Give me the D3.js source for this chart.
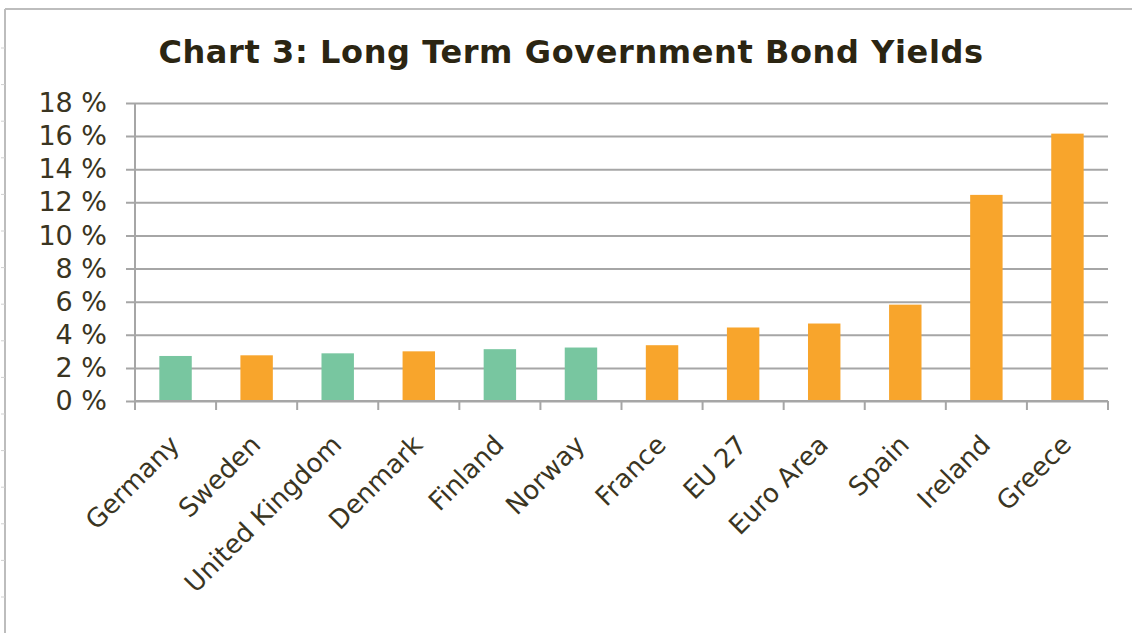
<!DOCTYPE html>
<html>
<head>
<meta charset="utf-8">
<script src="https://cdn.jsdelivr.net/npm/d3@7"></script>
<style>
  html, body { margin: 0; padding: 0; background: #fff; }
  svg { display: block; }
</style>
</head>
<body>
<script>
// Long term government bond yields, per cent
const countries = ["Germany", "Sweden", "United Kingdom", "Denmark", "Finland", "Norway",
                   "France", "EU 27", "Euro Area", "Spain", "Ireland", "Greece"];
const yields = [2.72, 2.76, 2.88, 3.0, 3.13, 3.23, 3.37, 4.44, 4.68, 5.82, 12.45, 16.15];
// euro members in orange, non-euro in green
const groups = ["non", "euro", "non", "euro", "non", "non",
                "euro", "euro", "euro", "euro", "euro", "euro"];
const yTicks = [0, 2, 4, 6, 8, 10, 12, 14, 16, 18];

const W = 1132, H = 633;
const margin = { left: 135, right: 24, top: 103, bottom: 232 };
const colors = { non: "#78c6a0", euro: "#f8a52c" };
const textColor = "#3a3522";

const svg = d3.select("body").append("svg").attr("width", W).attr("height", H);

// frame of the chart object (top and left edges)
const frame = svg.append("g");
frame.append("line").attr("x1", 5).attr("x2", W).attr("y1", 9).attr("y2", 9)
  .attr("stroke", "#bdbdbd").attr("stroke-width", 2);
frame.append("line").attr("x1", 5).attr("x2", 5).attr("y1", 9).attr("y2", H)
  .attr("stroke", "#bdbdbd").attr("stroke-width", 2);
frame.selectAll("line.mark").data(d3.range(48, H, 36.6)).join("line")
  .attr("class", "mark").attr("x1", 1).attr("x2", 5).attr("y1", d => d).attr("y2", d => d)
  .attr("stroke", "#cfcfcf").attr("stroke-width", 1);

const x = d3.scaleBand().domain(countries)
  .range([margin.left, W - margin.right]).paddingInner(0.6).paddingOuter(0.3);
const xTick = d3.scaleBand().domain(countries).range([margin.left, W - margin.right]);
const y = d3.scaleLinear().domain([0, 18]).range([H - margin.bottom, margin.top]);

// title
svg.append("text")
  .attr("x", 571).attr("y", 63)
  .attr("text-anchor", "middle")
  .attr("font-family", "DejaVu Sans, Verdana, sans-serif")
  .attr("font-weight", "bold")
  .attr("font-size", 32)
  .attr("letter-spacing", 0.6)
  .attr("fill", "#2b2512")
  .text("Chart 3: Long Term Government Bond Yields");

// gridlines and y axis
const yAxis = d3.axisLeft(y).tickValues(yTicks)
  .tickSize(-(W - margin.right - margin.left + 9))
  .tickFormat(d => d + " %");
const gy = svg.append("g").attr("transform", `translate(${margin.left},0)`).call(yAxis);
gy.select(".domain").remove();
gy.selectAll(".tick line").attr("x1", -9).attr("x2", W - margin.right - margin.left)
  .attr("stroke", "#a6a6a6").attr("stroke-width", 2);
gy.selectAll(".tick text")
  .attr("x", -28)
  .attr("font-family", "DejaVu Sans, Verdana, sans-serif")
  .attr("font-size", 27)
  .attr("fill", textColor);

// vertical axis line
svg.append("line")
  .attr("x1", margin.left).attr("x2", margin.left)
  .attr("y1", y(18)).attr("y2", y(0) + 9)
  .attr("stroke", "#a6a6a6").attr("stroke-width", 2);

// bars
svg.append("g").selectAll("rect").data(countries).join("rect")
  .attr("x", d => x(d))
  .attr("width", x.bandwidth())
  .attr("y", (d, i) => y(yields[i]))
  .attr("height", (d, i) => y(0) - y(yields[i]))
  .attr("fill", (d, i) => colors[groups[i]]);

// x axis with ticks at category boundaries
const baseY = y(0);
svg.append("line")
  .attr("x1", margin.left).attr("x2", W - margin.right)
  .attr("y1", baseY).attr("y2", baseY)
  .attr("stroke", "#a6a6a6").attr("stroke-width", 2);
const bounds = countries.map(c => xTick(c)).concat([W - margin.right]);
svg.append("g").selectAll("line").data(bounds).join("line")
  .attr("x1", d => d).attr("x2", d => d)
  .attr("y1", baseY).attr("y2", baseY + 9)
  .attr("stroke", "#a6a6a6").attr("stroke-width", 2);

// rotated category labels
svg.append("g").selectAll("text").data(countries).join("text")
  .attr("transform", d => `translate(${xTick(d) + xTick.bandwidth() / 2 - 1},${baseY + 39}) rotate(-45)`)
  .attr("text-anchor", "end")
  .attr("dy", "0.35em")
  .attr("font-family", "DejaVu Sans, Verdana, sans-serif")
  .attr("font-size", 26)
  .attr("fill", textColor)
  .text(d => d);
</script>
</body>
</html>
